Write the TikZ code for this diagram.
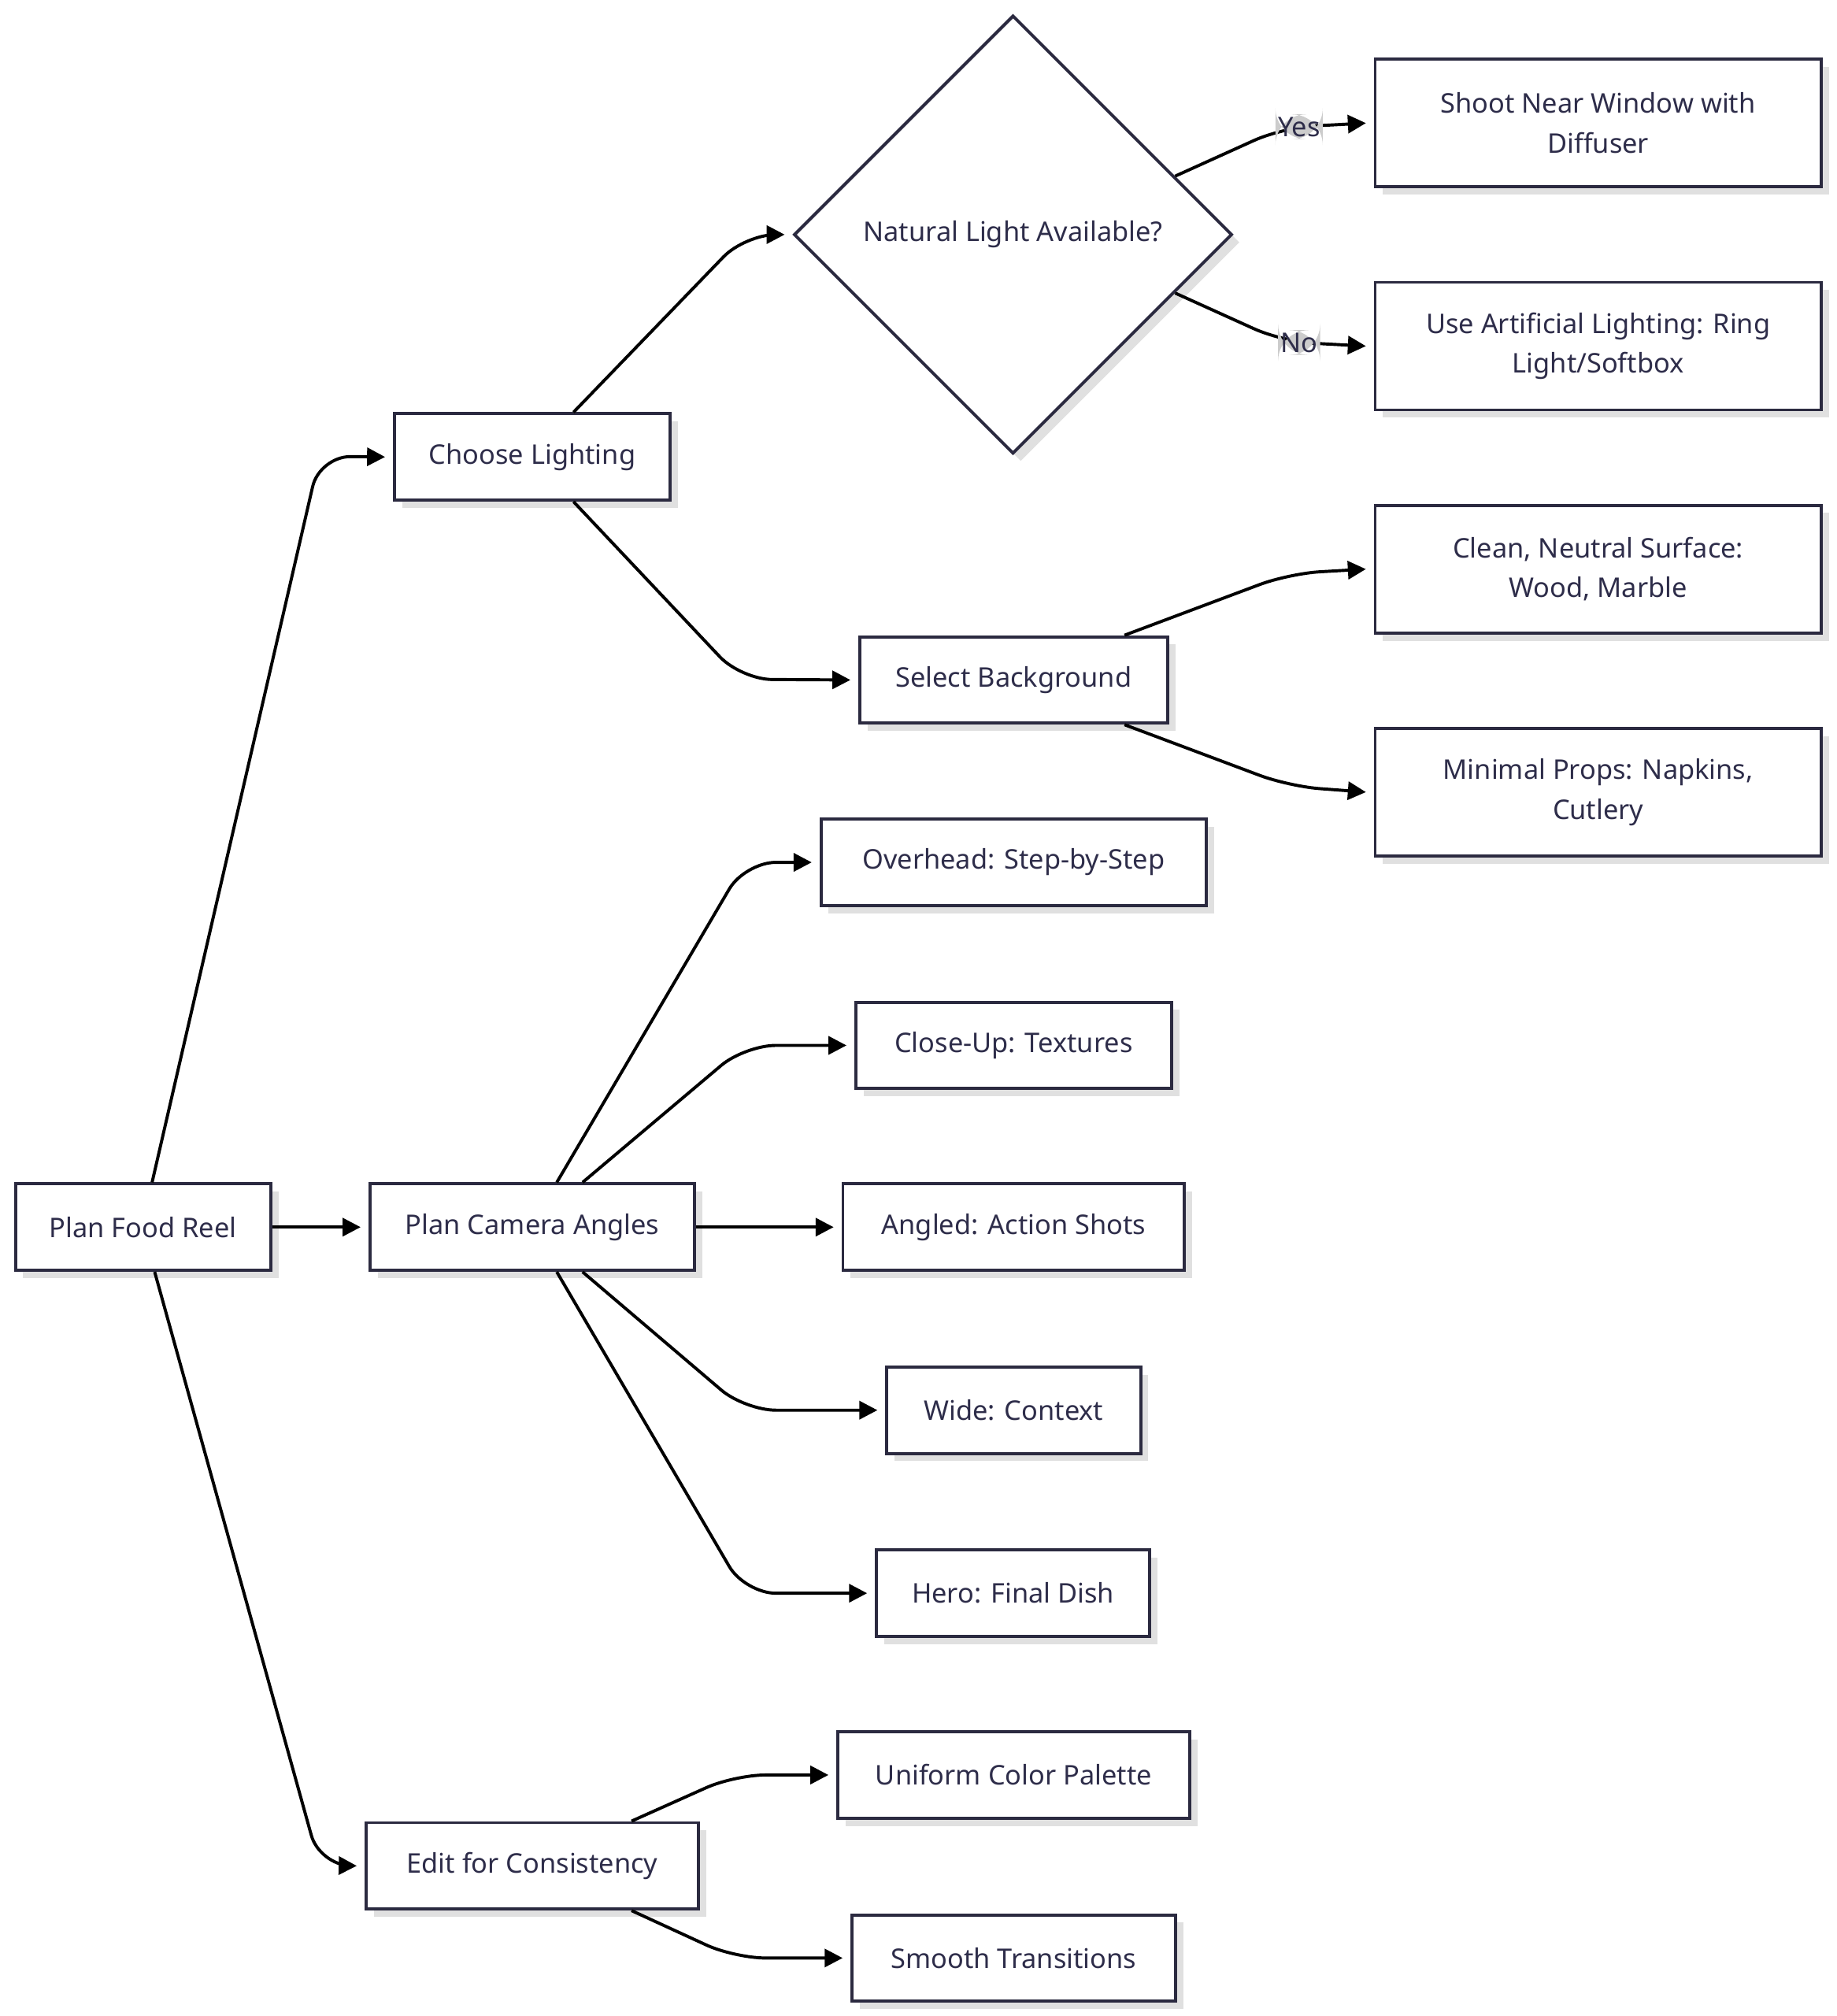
\documentclass[tikz,border=0pt]{standalone}
\usepackage{fontspec}
\setmainfont{Noto Sans}
\usetikzlibrary{shapes.geometric,arrows.meta,shadows,calc}
\definecolor{bd}{HTML}{2B2A40}
\definecolor{tx}{HTML}{2E2D4A}
\begin{document}
\begin{tikzpicture}[x=0.5pt,y=-0.5pt,
  box/.style={draw=bd,line width=1.2pt,fill=white,text=tx,font=\fontsize{10.5}{15.5}\selectfont,
    minimum height=33.5pt,align=center,inner sep=0pt,
    drop shadow={shadow xshift=3pt,shadow yshift=-3pt,fill=black!12,opacity=1}},
  big/.style={box,minimum width=173pt,minimum height=49.5pt},
  ar/.style={draw=black,line width=1.2pt,rounded corners=12pt,-{Triangle[length=7pt,width=7pt]}},
  lbl/.style={fill=black!20,text=tx,font=\fontsize{10.5}{12}\selectfont,inner sep=1pt}]
\useasboundingbox (0,0) rectangle (1425,1564);
\node[box,minimum width=99pt] (pfr) at (111,952) {Plan Food Reel};
\node[box,minimum width=107pt] (cl) at (413,354.5) {Choose Lighting};
\node[box,minimum width=126pt] (pca) at (413,952) {Plan Camera Angles};
\node[box,minimum width=129pt] (ed) at (413,1447.5) {Edit for Consistency};
\node[diamond,draw=bd,line width=1.2pt,fill=white,text=tx,font=\fontsize{10.5}{12}\selectfont,
  minimum width=170pt,minimum height=170pt,inner sep=0pt,
  drop shadow={shadow xshift=3pt,shadow yshift=-3pt,fill=black!12,opacity=1}] (d) at (786,182) {Natural Light Available?};
\node[box,minimum width=119.5pt] (sb) at (786.5,527.5) {Select Background};
\node[box,minimum width=149.5pt] (ov) at (786.5,669) {Overhead: Step-by-Step};
\node[box,minimum width=122.5pt] (cu) at (786.5,811) {Close-Up: Textures};
\node[box,minimum width=132.5pt] (an) at (786.5,952) {Angled: Action Shots};
\node[box,minimum width=98.5pt] (wi) at (786.5,1094) {Wide: Context};
\node[box,minimum width=106pt] (he) at (786,1236) {Hero: Final Dish};
\node[box,minimum width=136.5pt] (un) at (786.5,1377) {Uniform Color Palette};
\node[box,minimum width=125.5pt] (sm) at (786.5,1519) {Smooth Transitions};
\node[big] (sh) at (1240,95.5) {Shoot Near Window with\\Diffuser};
\node[big] (ua) at (1240,268.5) {Use Artificial Lighting: Ring\\Light/Softbox};
\node[big] (cn) at (1240,441.5) {Clean, Neutral Surface:\\Wood, Marble};
\node[big] (mp) at (1240,614.5) {Minimal Props: Napkins,\\Cutlery};
\draw[ar] ([xshift=3.5pt]pfr.north) -- (248,354) -- ([xshift=-3pt]cl.west);
\draw[ar] (pfr.east) -- ([xshift=-3pt]pca.west);
\draw[ar] ([xshift=4.5pt]pfr.south) -- (248,1447) -- ([xshift=-3pt]ed.west);
\draw[ar] ([xshift=16pt]cl.north) -- (578,182) -- ([xshift=-3pt]d.west);
\draw[ar] ([xshift=16pt]cl.south) -- (575,527) -- ([xshift=-3pt]sb.west);
\draw[ar] ($(d.north)!0.735!(d.east)$) -- (995,99) -- node[lbl,pos=0.2]{Yes} ([xshift=-3pt]sh.west);
\draw[ar] ($(d.south)!0.735!(d.east)$) -- (995,265) -- node[lbl,pos=0.2]{No} ([xshift=-3pt]ua.west);
\draw[ar] ([xshift=43pt]sb.north) -- (1000,445) -- ([xshift=-3pt]cn.west);
\draw[ar] ([xshift=43pt]sb.south) -- (1000,610) -- ([xshift=-3pt]mp.west);
\draw[ar] ([xshift=9.5pt]pca.north) -- (578,669) -- ([xshift=-3pt]ov.west);
\draw[ar] ([xshift=19.5pt]pca.north) -- (578,811) -- ([xshift=-3pt]cu.west);
\draw[ar] (pca.east) -- ([xshift=-3pt]an.west);
\draw[ar] ([xshift=19.5pt]pca.south) -- (578,1094) -- ([xshift=-3pt]wi.west);
\draw[ar] ([xshift=9.5pt]pca.south) -- (578,1236) -- ([xshift=-3pt]he.west);
\draw[ar] ([xshift=38.5pt]ed.north) -- (570,1377) -- ([xshift=-3pt]un.west);
\draw[ar] ([xshift=38.5pt]ed.south) -- (570,1519) -- ([xshift=-3pt]sm.west);
\end{tikzpicture}
\end{document}
